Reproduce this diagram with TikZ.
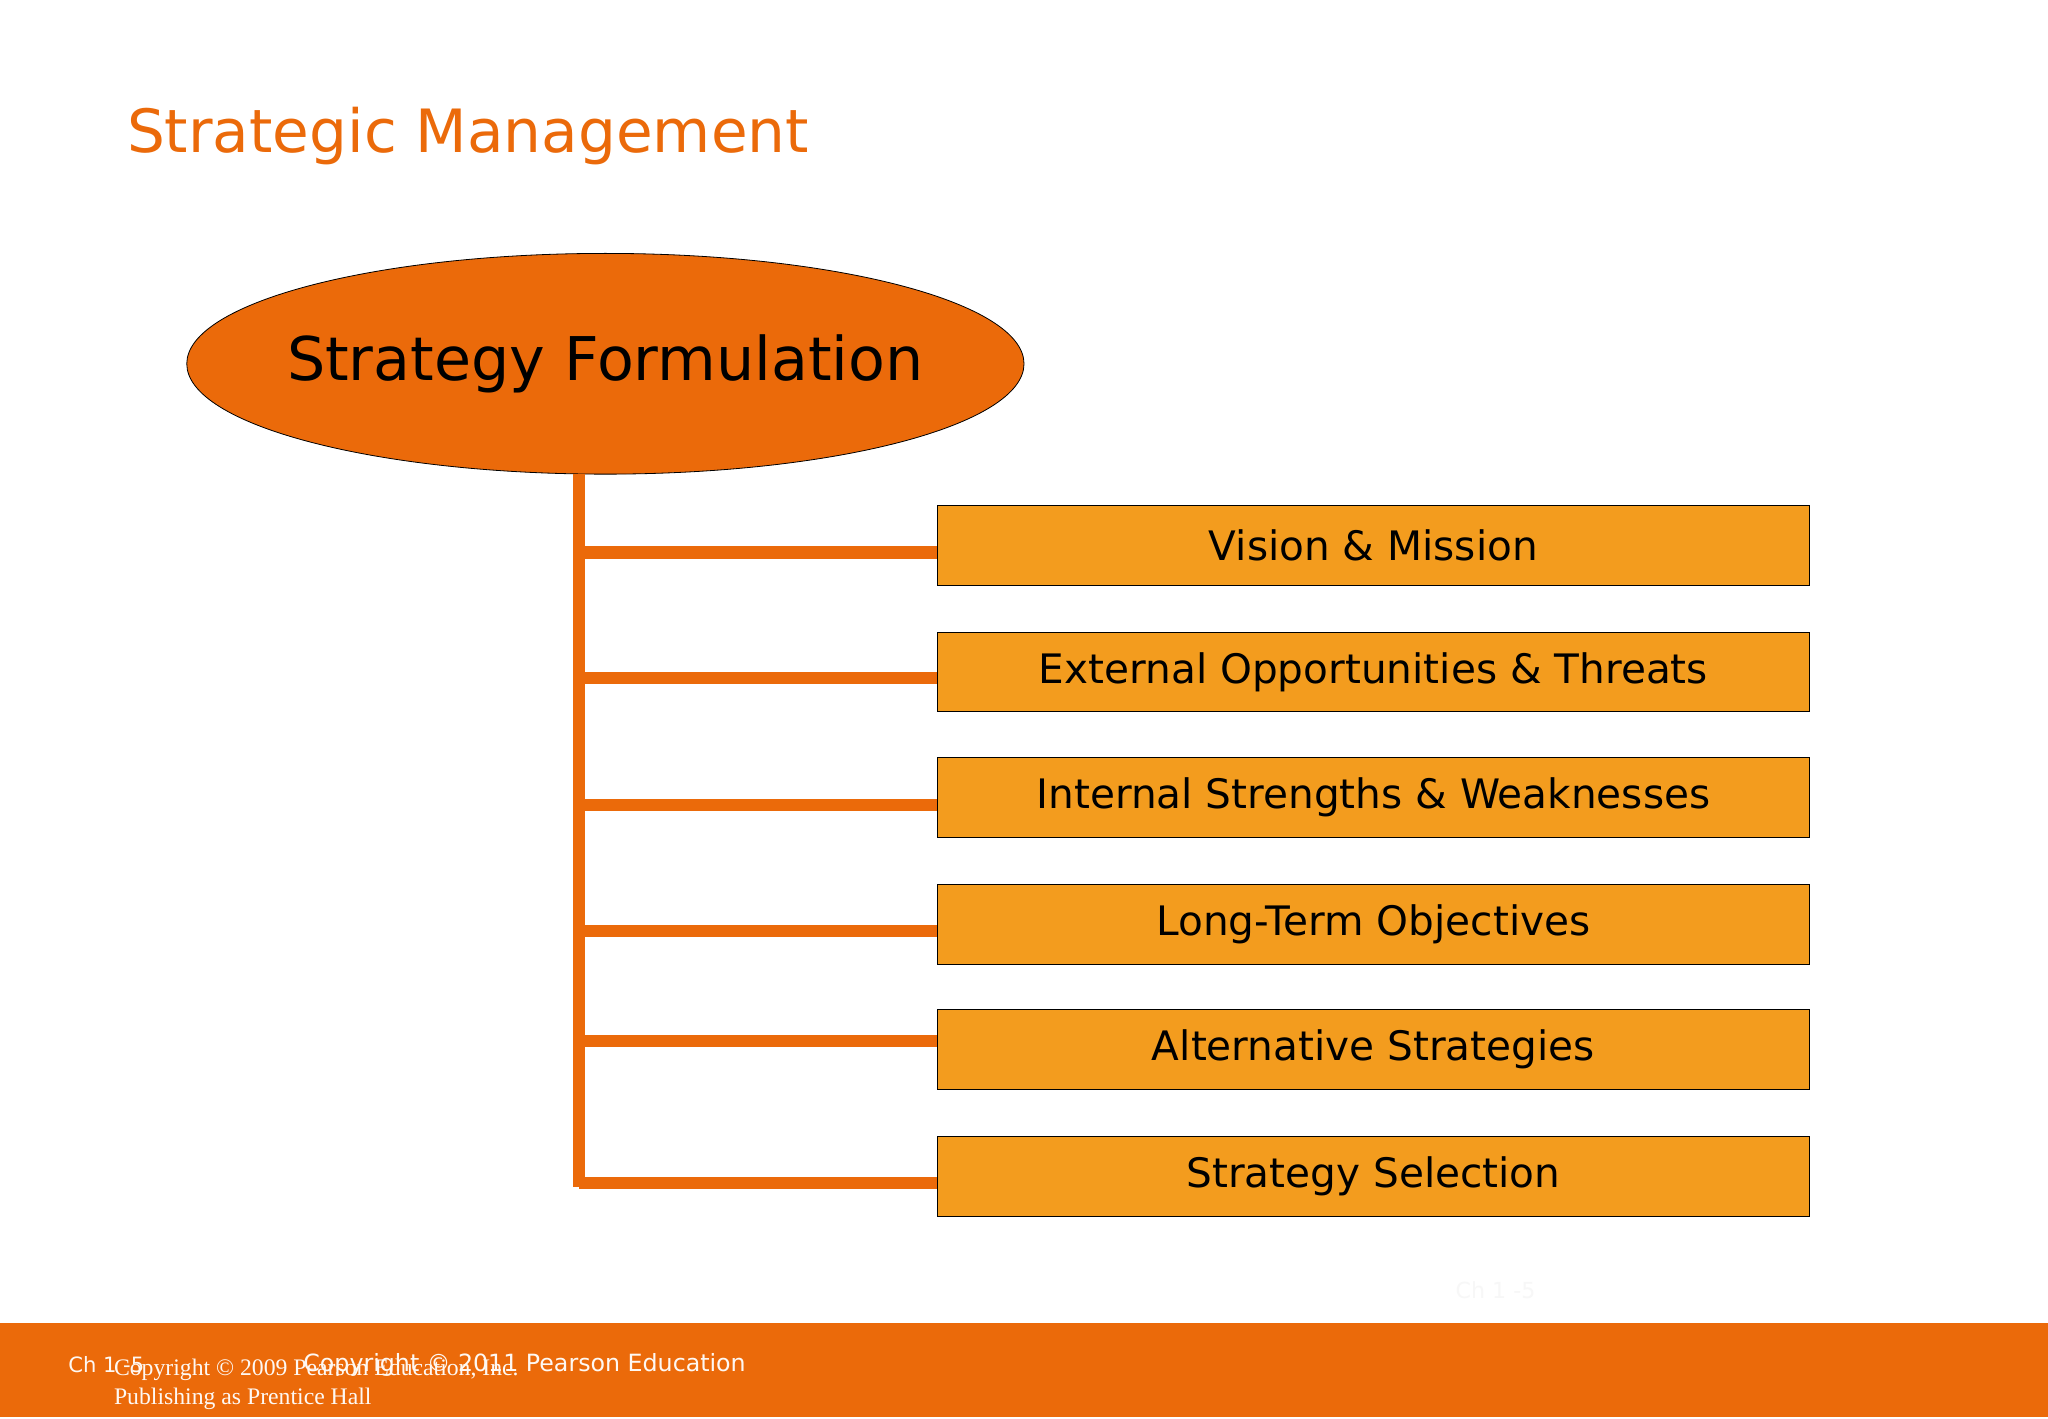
\documentclass[tikz,border=0pt]{standalone}
\usepackage{fontspec}
\setmainfont{DejaVu Sans}
\newfontfamily\seriff{Liberation Serif}
\usetikzlibrary{shapes.geometric}
\definecolor{orng}{HTML}{EB6A0A}
\definecolor{boxo}{HTML}{F39C1E}
\begin{document}
\begin{tikzpicture}[x=0.65pt,y=-0.65pt,
  item/.style={draw=black,fill=boxo,minimum width=667*0.65pt,minimum height=61*0.65pt,inner sep=0pt,font=\fontsize{20.2}{23}\selectfont},
  bar/.style={orng,line width=6pt}]
\useasboundingbox (0,0) rectangle (1568,1086);
\fill[white] (0,0) rectangle (1568,1086);
\node[anchor=west,text=orng,font=\fontsize{29.7}{34}\selectfont,inner sep=0pt] (title) at (97,104) {Strategic Management};
\node[ellipse,draw=black,fill=orng,minimum width=641*0.65pt,minimum height=169*0.65pt,inner sep=0pt] (sf) at (463.5,278.5) {};
\node[font=\fontsize{30}{34}\selectfont,inner sep=0pt] (sft) at (sf.center) {Strategy Formulation};
\node[item] (b1) at (1051.5,417.5) {Vision \& Mission};
\node[item] (b2) at (1051.5,514.5) {External Opportunities \& Threats};
\node[item] (b3) at (1051.5,610.5) {Internal Strengths \& Weaknesses};
\node[item] (b4) at (1051.5,707.5) {Long-Term Objectives};
\node[item] (b5) at (1051.5,803.5) {Alternative Strategies};
\node[item] (b6) at (1051.5,900.5) {Strategy Selection};
\coordinate (top) at (443,363);
\coordinate (bot) at (443,909);
\draw[bar] (top) -- (bot);
\foreach \y/\b in {423/b1,519/b2,616/b3,713/b4,797/b5,906/b6}{
  \draw[bar] (443,\y) -- (\b.west |- 0,\y);
}
\fill[orng] (0,1013) rectangle (1568,1085);
\node[anchor=west,text=white!95!orng,font=\fontsize{10.5}{12}\selectfont,inner sep=0pt] (ch) at (52,1045) {Ch 1 -5};
\node[anchor=west,text=white!95!orng,font=\fontsize{11.8}{14}\selectfont,inner sep=0pt] (cp) at (232,1045) {Copyright © 2011 Pearson Education};
\node[anchor=north west,align=left,text=white!95!orng,font=\seriff\fontsize{11.8}{14.5}\selectfont,inner sep=0pt] (cp2) at (87,1040) {Copyright © 2009 Pearson Education, Inc.\\Publishing as Prentice Hall};
\node[text=black!3,font=\fontsize{11}{13}\selectfont] (faint) at (1145,988) {Ch 1 -5};
\end{tikzpicture}
\end{document}
